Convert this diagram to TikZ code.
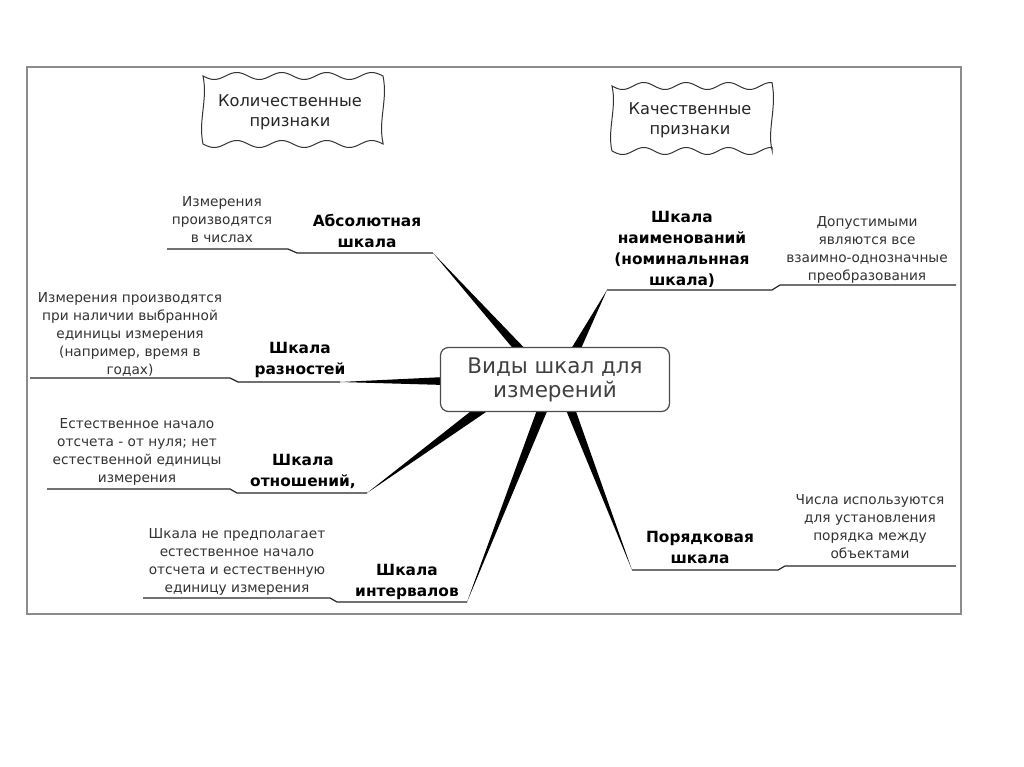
\documentclass[tikz,border=0pt]{standalone}
\usepackage{fontspec}
\setmainfont{DejaVu Sans}
\usetikzlibrary{calc,backgrounds}
\tikzset{
  side/.style={align=center, font=\fontsize{13.7}{18}\selectfont, text=black!80, inner sep=0pt},
  lab/.style={align=center, font=\bfseries\fontsize{15.4}{21}\selectfont, text=black, inner sep=0pt},
  ul/.style={line width=1.2pt, draw=black!85},
  wedgefill/.style={fill=black},
  wavy/.style={draw=black!80, line width=1pt, fill=white},
  wavytext/.style={align=center, font=\fontsize{16.2}{20}\selectfont, text=black!85, inner sep=0pt}
}
\begin{document}
\begin{tikzpicture}[x=1pt,y=-1pt]
\useasboundingbox (0,0) rectangle (1024,767);
\begin{scope}[on background layer]
\fill[white] (0,0) rectangle (1024,767);
\end{scope}
\draw[black!45, line width=1.5pt] (27,67) rectangle (961,614);

% wavy boxes
\draw[wavy] plot[domain=203:383,samples=80,smooth] (\x,{76+3.5*sin((\x-203)*8)})
  .. controls (388,100) and (378,120) .. (383,143)
  -- plot[domain=383:203,samples=80,smooth] (\x,{144+3.5*sin((\x-203)*8)})
  .. controls (198,120) and (208,100) .. (203,76) -- cycle;
\node[wavytext] (q1) at (290,112) {Количественные\\признаки};

\draw[wavy] plot[domain=612:772,samples=80,smooth] (\x,{86+3.5*sin((\x-612)*8.5)})
  .. controls (777,108) and (767,130) .. (772,150)
  -- plot[domain=772:612,samples=80,smooth] (\x,{151+3.5*sin((\x-612)*8.5)})
  .. controls (607,130) and (617,108) .. (612,86) -- cycle;
\node[wavytext] (q2) at (690,120) {Качественные\\признаки};

% central node
\node[draw=black!70, line width=1.2pt, rounded corners=8pt, fill=white,
      minimum width=229pt, minimum height=64pt, align=center,
      font=\fontsize{21.5}{24}\selectfont, text=black!75, inner sep=0pt] (c) at (555,379.5) {Виды шкал для\\измерений};

% wedge base coordinates (inside/at border of c)
\coordinate (bA) at (521,351);
\coordinate (bN) at (575,351);
\coordinate (bR) at (445,381);
\coordinate (bO) at (483,408);
\coordinate (bI) at (543,408);
\coordinate (bP) at (570,408);

% tips
\coordinate (tA) at (433,253);
\coordinate (tN) at (607,290);
\coordinate (tR) at (340,382);
\coordinate (tO) at (367,493);
\coordinate (tI) at (467,602);
\coordinate (tP) at (632,570);

\begin{scope}[on background layer]
\fill[wedgefill] (tA) -- ($(bA)!4.5pt!90:(tA)$) -- ($(bA)!4.5pt!-90:(tA)$) -- cycle;
\fill[wedgefill] (tN) -- ($(bN)!4.5pt!90:(tN)$) -- ($(bN)!4.5pt!-90:(tN)$) -- cycle;
\fill[wedgefill] (tR) -- ($(bR)!4pt!90:(tR)$) -- ($(bR)!4pt!-90:(tR)$) -- cycle;
\fill[wedgefill] (tO) -- ($(bO)!5pt!90:(tO)$) -- ($(bO)!5pt!-90:(tO)$) -- cycle;
\fill[wedgefill] (tI) -- ($(bI)!5pt!90:(tI)$) -- ($(bI)!5pt!-90:(tI)$) -- cycle;
\fill[wedgefill] (tP) -- ($(bP)!4.5pt!90:(tP)$) -- ($(bP)!4.5pt!-90:(tP)$) -- cycle;
\end{scope}

% underlines
\draw[ul] (tA) -- (297,253) -- (288,249) -- (167,249);
\draw[ul] (tN) -- (772,290) -- (780,285) -- (956,285);
\draw[ul] (tR) -- (238,382) -- (230,378) -- (30,378);
\draw[ul] (tO) -- (237,493) -- (230,489) -- (47,489);
\draw[ul] (tI) -- (337,602) -- (330,598) -- (143,598);
\draw[ul] (tP) -- (778,570) -- (785,566) -- (956,566);

% labels
\node[lab] (lA) at (367,231) {Абсолютная\\шкала};
\node[side] (sA) at (222,220) {Измерения\\производятся\\в числах};

\node[lab] (lN) at (682,249) {Шкала\\наименований\\(номинальнная\\шкала)};
\node[side] (sN) at (867,250) {Допустимыми\\являются все\\взаимно-однозначные\\преобразования};

\node[lab] (lR) at (300,360) {Шкала\\разностей};
\node[side] (sR) at (130,334) {Измерения производятся\\при наличии выбранной\\единицы измерения\\(например, время в\\годах)};

\node[lab] (lO) at (303,471) {Шкала\\отношений,};
\node[side] (sO) at (137,452) {Естественное начало\\отсчета - от нуля; нет\\естественной единицы\\измерения};

\node[lab] (lI) at (407,582) {Шкала\\интервалов};
\node[side] (sI) at (237,562) {Шкала не предполагает\\естественное начало\\отсчета и естественную\\единицу измерения};

\node[lab] (lP) at (700,547) {Порядковая\\шкала};
\node[side] (sP) at (870,527) {Числа используются\\для установления\\порядка между\\объектами};
\end{tikzpicture}
\end{document}
